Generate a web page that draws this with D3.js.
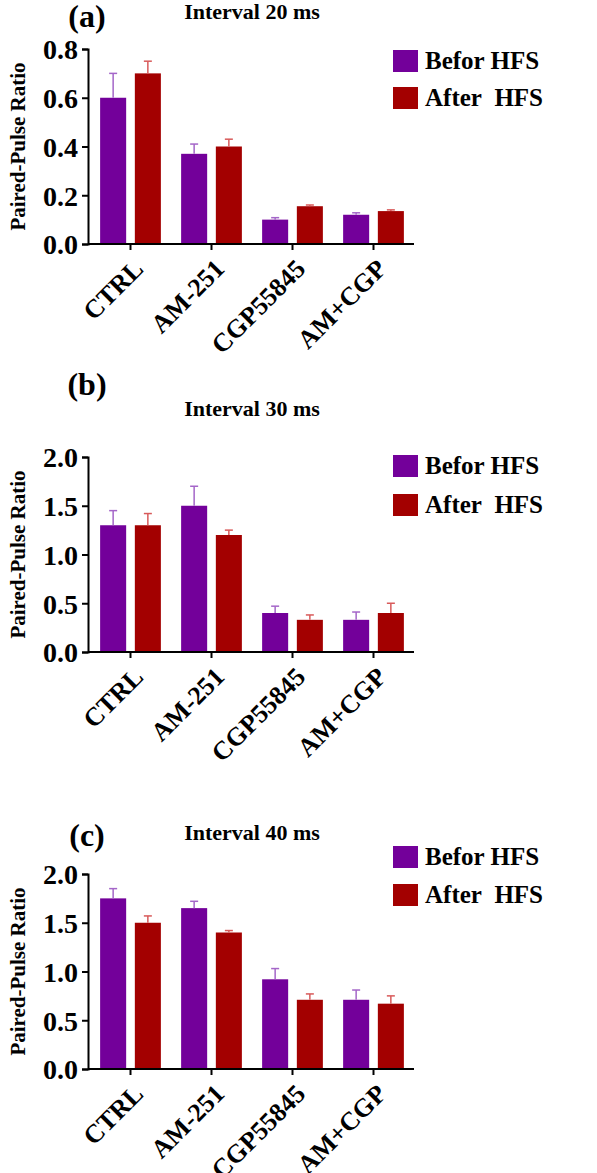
<!DOCTYPE html>
<html><head><meta charset="utf-8">
<script src="https://cdn.jsdelivr.net/npm/d3@7"></script>
<style>body{margin:0;background:#fff}</style>
</head><body>
<svg id="chart" width="597" height="1173"></svg>
<script>
const groups = ["CTRL", "AM-251", "CGP55845", "AM+CGP"]
const seriesNames = ["Befor HFS", "After\u00a0 HFS"]
const colors = ["#73009a", "#a30000"]
const errColors = ["#a466c8", "#d85a5a"]

// panel (a) 20 ms
const beforeA = [0.6, 0.37, 0.1, 0.12]
const beforeErrA = [0.1, 0.04, 0.008, 0.008]
const afterA = [0.7, 0.4, 0.155, 0.135]
const afterErrA = [0.05, 0.03, 0.005, 0.005]
// panel (b) 30 ms
const beforeB = [1.3, 1.5, 0.4, 0.33]
const beforeErrB = [0.15, 0.2, 0.07, 0.08]
const afterB = [1.3, 1.2, 0.33, 0.4]
const afterErrB = [0.12, 0.05, 0.05, 0.1]
// panel (c) 40 ms
const beforeC = [1.75, 1.65, 0.92, 0.71]
const beforeErrC = [0.1, 0.07, 0.11, 0.1]
const afterC = [1.5, 1.4, 0.71, 0.67]
const afterErrC = [0.07, 0.02, 0.06, 0.08]

const panels = [
  {tag: "(a)", title: "Interval 20 ms", top: 49, bottom: 244, max: 0.8, ticks: [0, 0.2, 0.4, 0.6, 0.8], fmt: d3.format(".1f"),
   vals: [beforeA, afterA], errs: [beforeErrA, afterErrA], tagY: 27, titleY: 19, legY: [61, 98]},
  {tag: "(b)", title: "Interval 30 ms", top: 457, bottom: 652, max: 2, ticks: [0, 0.5, 1, 1.5, 2], fmt: d3.format(".1f"),
   vals: [beforeB, afterB], errs: [beforeErrB, afterErrB], tagY: 395, titleY: 416, legY: [466, 505]},
  {tag: "(c)", title: "Interval 40 ms", top: 874, bottom: 1069, max: 2, ticks: [0, 0.5, 1, 1.5, 2], fmt: d3.format(".1f"),
   vals: [beforeC, afterC], errs: [beforeErrC, afterErrC], tagY: 846, titleY: 840, legY: [857, 895]}
]

const svg = d3.select("#chart")
const serif = "'Liberation Serif', 'DejaVu Serif', serif"
const x0 = d3.scaleBand().domain(groups).range([90, 414]).paddingInner(0.25).paddingOuter(0.125)
const x1 = d3.scaleBand().domain([0, 1]).range([0, x0.bandwidth()]).paddingInner(0.25)

panels.forEach(p => {
  const g = svg.append("g")
  const y = d3.scaleLinear().domain([0, p.max]).range([p.bottom, p.top])

  g.append("text").attr("x", 87).attr("y", p.tagY).attr("font-family", serif).attr("font-weight", "bold")
    .attr("font-size", 32).attr("text-anchor", "middle").text(p.tag)
  g.append("text").attr("x", 252).attr("y", p.titleY).attr("font-family", serif).attr("font-weight", "bold")
    .attr("font-size", 22).attr("text-anchor", "middle").text(p.title)
  g.append("text").attr("transform", `translate(25,${(p.top + p.bottom) / 2}) rotate(-90)`)
    .attr("font-family", serif).attr("font-weight", "bold").attr("font-size", 21).attr("text-anchor", "middle")
    .text("Paired-Pulse Ratio")

  seriesNames.forEach((s, si) => {
    g.selectAll(null).data(groups).join("rect")
      .attr("x", d => x0(d) + x1(si)).attr("width", x1.bandwidth())
      .attr("y", (d, i) => y(p.vals[si][i])).attr("height", (d, i) => y(0) - y(p.vals[si][i]))
      .attr("fill", colors[si])
    groups.forEach((d, i) => {
      const cx = x0(d) + x1(si) + x1.bandwidth() / 2
      const yt = y(p.vals[si][i] + p.errs[si][i]), yb = y(p.vals[si][i])
      g.append("line").attr("x1", cx).attr("x2", cx).attr("y1", yt).attr("y2", yb).attr("stroke", errColors[si]).attr("stroke-width", 1.5)
      g.append("line").attr("x1", cx - 4).attr("x2", cx + 4).attr("y1", yt).attr("y2", yt).attr("stroke", errColors[si]).attr("stroke-width", 1.5)
    })
    g.append("rect").attr("x", 393).attr("y", p.legY[si] - 11).attr("width", 25).attr("height", 22).attr("fill", colors[si])
    g.append("text").attr("x", 425).attr("y", p.legY[si] + 8).attr("font-family", serif).attr("font-weight", "bold")
      .attr("font-size", 25).text(s)
  })

  const ya = g.append("g").attr("transform", "translate(88,0)")
    .call(d3.axisLeft(y).tickValues(p.ticks).tickFormat(p.fmt).tickSize(6))
  ya.select(".domain").attr("stroke-width", 2)
  ya.selectAll("line").attr("stroke-width", 2)
  ya.selectAll("text").attr("font-family", serif).attr("font-weight", "bold").attr("font-size", 28).attr("dx", -1).attr("dy", "0.35em")

  const xa = g.append("g").attr("transform", `translate(0,${p.bottom})`)
    .call(d3.axisBottom(x0).tickSizeInner(6).tickSizeOuter(0))
  xa.select(".domain").attr("stroke-width", 2).attr("d", `M88,0H414`)
  xa.selectAll("line").attr("stroke-width", 2)
  xa.selectAll("text").attr("font-family", serif).attr("font-weight", "bold").attr("font-size", 26)
    .attr("text-anchor", "end").attr("dy", 0).attr("transform", "translate(8,20) rotate(-45)")
})
</script>
</body></html>
